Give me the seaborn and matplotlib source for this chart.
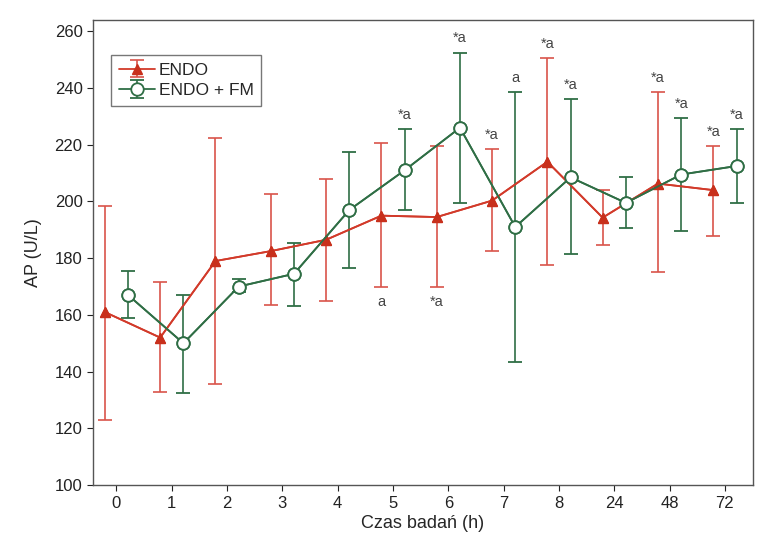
import numpy as np
import pandas as pd
import matplotlib
matplotlib.use("Agg")
import matplotlib.pyplot as plt
import seaborn as sns

# time points (h)
czas = ['0', '1', '2', '3', '4', '5', '6', '7', '8', '24', '48', '72']

# ENDO: mean, upper and lower limits of the error bars
endo_mean = [161, 152, 179, 182.5, 186.5, 195, 194.5, 200.3, 214, 194.3, 206.3, 204]
endo_hi = [198.5, 171.5, 222.5, 202.5, 208, 220.5, 219.5, 218.5, 250.5, 204, 238.5, 219.5]
endo_lo = [123, 133, 135.5, 163.5, 165, 170, 170, 182.5, 177.5, 184.5, 175, 188]

# ENDO + FM
fm_mean = [167, 150, 170, 174.5, 197, 211, 226, 191, 208.5, 199.5, 209.5, 212.5]
fm_hi = [175.5, 167, 172.5, 185.5, 217.5, 225.5, 252.5, 238.5, 236, 208.5, 229.5, 225.5]
fm_lo = [159, 132.5, 168, 163, 176.5, 197, 199.5, 143.5, 181.5, 190.5, 189.5, 199.5]

# significance marks: (time index, series, 'hi'/'lo', label)
marks = [
    (5, 'endo', 'lo', 'a'), (6, 'endo', 'lo', '*a'),
    (5, 'fm', 'hi', '*a'), (6, 'fm', 'hi', '*a'),
    (7, 'endo', 'hi', '*a'), (7, 'fm', 'hi', 'a'),
    (8, 'endo', 'hi', '*a'), (8, 'fm', 'hi', '*a'),
    (10, 'endo', 'hi', '*a'), (10, 'fm', 'hi', '*a'),
    (11, 'endo', 'hi', '*a'), (11, 'fm', 'hi', '*a'),
]

RED = '#d23a2a'
RED_BAR = '#d9544a'
GREEN = '#2f6e45'
shift = 0.21

sns.set_style('ticks')
plt.rcParams['font.family'] = ['Liberation Sans', 'DejaVu Sans']

fig = plt.figure(figsize=(7.59, 5.39), dpi=100)
ax = fig.add_axes([0.1225, 0.1, 0.869, 0.863])

pos = np.arange(len(czas))
x_endo = pos - shift
x_fm = pos + shift

series = {
    'endo': (x_endo, np.array(endo_mean), np.array(endo_hi), np.array(endo_lo)),
    'fm': (x_fm, np.array(fm_mean), np.array(fm_hi), np.array(fm_lo)),
}

df = pd.DataFrame({
    'x': np.concatenate([x_endo, x_fm]),
    'AP': endo_mean + fm_mean,
    'grupa': ['ENDO'] * len(czas) + ['ENDO + FM'] * len(czas),
})

# error bars (also used for legend handles)
xe, me, he, le = series['endo']
h1 = ax.errorbar(xe, me, yerr=[me - le, he - me], fmt='-^', color=RED,
                 ecolor=RED_BAR, elinewidth=1.2, capsize=5, capthick=1.2,
                 markersize=7, markerfacecolor='#c8301c', markeredgecolor='#c8301c',
                 lw=1.3, label='ENDO', zorder=2)
xf, mf, hf, lf = series['fm']
h2 = ax.errorbar(xf, mf, yerr=[mf - lf, hf - mf], fmt='-o', color=GREEN,
                 ecolor=GREEN, elinewidth=1.2, capsize=5, capthick=1.2,
                 markersize=9, markerfacecolor='white', markeredgecolor=GREEN,
                 markeredgewidth=1.3, lw=1.3, label='ENDO + FM', zorder=3)

sns.lineplot(data=df[df.grupa == 'ENDO'], x='x', y='AP', color=RED, lw=1.3,
             marker='^', markersize=7, markerfacecolor='#c8301c',
             markeredgecolor='#c8301c', ax=ax, legend=False, zorder=4)
sns.lineplot(data=df[df.grupa == 'ENDO + FM'], x='x', y='AP', color=GREEN, lw=1.3,
             marker='o', markersize=9, markerfacecolor='white',
             markeredgecolor=GREEN, markeredgewidth=1.3, ax=ax, legend=False,
             zorder=5)

for i, s, side, txt in marks:
    xs, m, hi, lo = series[s]
    if side == 'hi':
        ax.text(xs[i], hi[i] + 2.5, txt, ha='center', va='bottom',
                fontsize=10.5, color='#444444')
    else:
        ax.text(xs[i], lo[i] - 3, txt, ha='center', va='top',
                fontsize=10.5, color='#444444')

ax.set_xlim(-0.425, 11.5)
ax.set_ylim(100, 264)
ax.set_xticks(pos)
ax.set_xticklabels(czas)
ax.set_yticks(np.arange(100, 261, 20))
ax.tick_params(labelsize=12, colors='#222222', length=4)
ax.set_xlabel('Czas badań (h)', fontsize=13, labelpad=3)
ax.set_ylabel('AP (U/L)', fontsize=13, labelpad=9)
for sp in ax.spines.values():
    sp.set_color('#555555')
    sp.set_linewidth(1.0)

leg = ax.legend(handles=[h1, h2], loc='upper left', bbox_to_anchor=(0.027, 0.925),
                borderaxespad=0, fontsize=12.5, frameon=True, fancybox=False,
                edgecolor='#555555', handlelength=2.1, handletextpad=0.2,
                borderpad=0.45, labelspacing=0.3)
leg.get_frame().set_linewidth(1.0)

fig.savefig('out.png', dpi=100)
